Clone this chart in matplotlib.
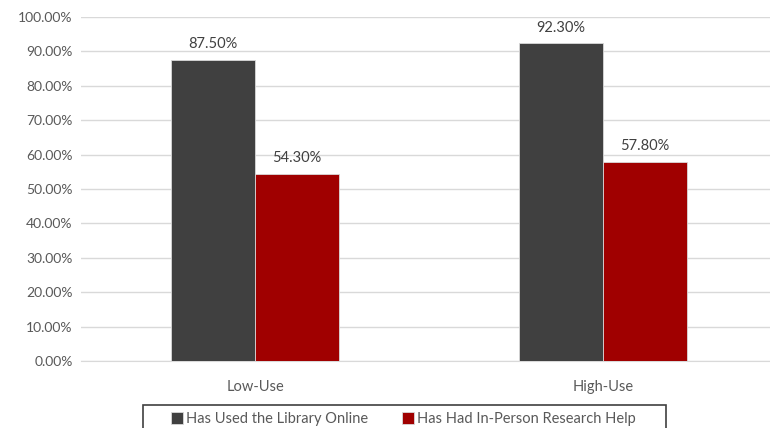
import numpy as np
import matplotlib.pyplot as plt
from matplotlib.patches import Rectangle
from matplotlib.ticker import PercentFormatter

# Dados do gráfico
categorias = ['Low-Use', 'High-Use']
series = ['Has Used the Library Online', 'Has Had In-Person Research Help']
online = [87.5, 92.3]
presencial = [54.3, 57.8]
cores = ['#404040', '#A00000']

texto_cor = '#595959'
plt.rcParams['font.family'] = ['Lato', 'DejaVu Sans']

fig = plt.figure(figsize=(7.7, 4.28), dpi=100)
ax = fig.add_axes([81 / 770, 1 - 361 / 428, 696 / 770, 344 / 428])

x = np.arange(len(categorias))
largura = 0.24

for i, (valores, nome) in enumerate([(online, series[0]), (presencial, series[1])]):
    pos = x + (i - 0.5) * largura
    barras = ax.bar(pos, valores, largura, color=cores[i], label=nome,
                    edgecolor='#d9d9d9', linewidth=0.6, zorder=3)
    for b, v in zip(barras, valores):
        ax.text(b.get_x() + b.get_width() / 2, v + 2.6, f'{v:.2f}%',
                ha='center', va='bottom', fontsize=10.5, color='#404040')

ax.set_xlim(-0.5, 1.5)
ax.set_ylim(0, 100)
ax.set_yticks(np.arange(0, 101, 10))
ax.yaxis.set_major_formatter(PercentFormatter(decimals=2))
ax.set_xticks(x)
ax.set_xticklabels(categorias)
ax.tick_params(axis='both', length=0, labelsize=10, colors=texto_cor)
ax.tick_params(axis='x', pad=14, labelsize=10.5)
ax.tick_params(axis='y', pad=6)
ax.grid(axis='y', color='#d9d9d9', linewidth=1, zorder=0)
for lado in ['top', 'right', 'left']:
    ax.spines[lado].set_visible(False)
ax.spines['bottom'].set_color('#d9d9d9')

# Legenda sem moldura, com a caixa desenhada à parte
ax.legend(loc='upper left', bbox_to_anchor=(163 / 770, 1 - 404 / 428),
          bbox_transform=fig.transFigure, ncol=2, frameon=False,
          fontsize=10.5, handlelength=0.8, handleheight=0.8,
          handletextpad=0.25, columnspacing=2.3, borderpad=0.05,
          labelcolor=texto_cor)
fig.patches.append(Rectangle((143 / 770, -0.01), 523 / 770, 1 - 405 / 428 + 0.01,
                             transform=fig.transFigure, fill=False,
                             edgecolor='#404040', linewidth=1.2))

fig.savefig('out.png', dpi=100)
